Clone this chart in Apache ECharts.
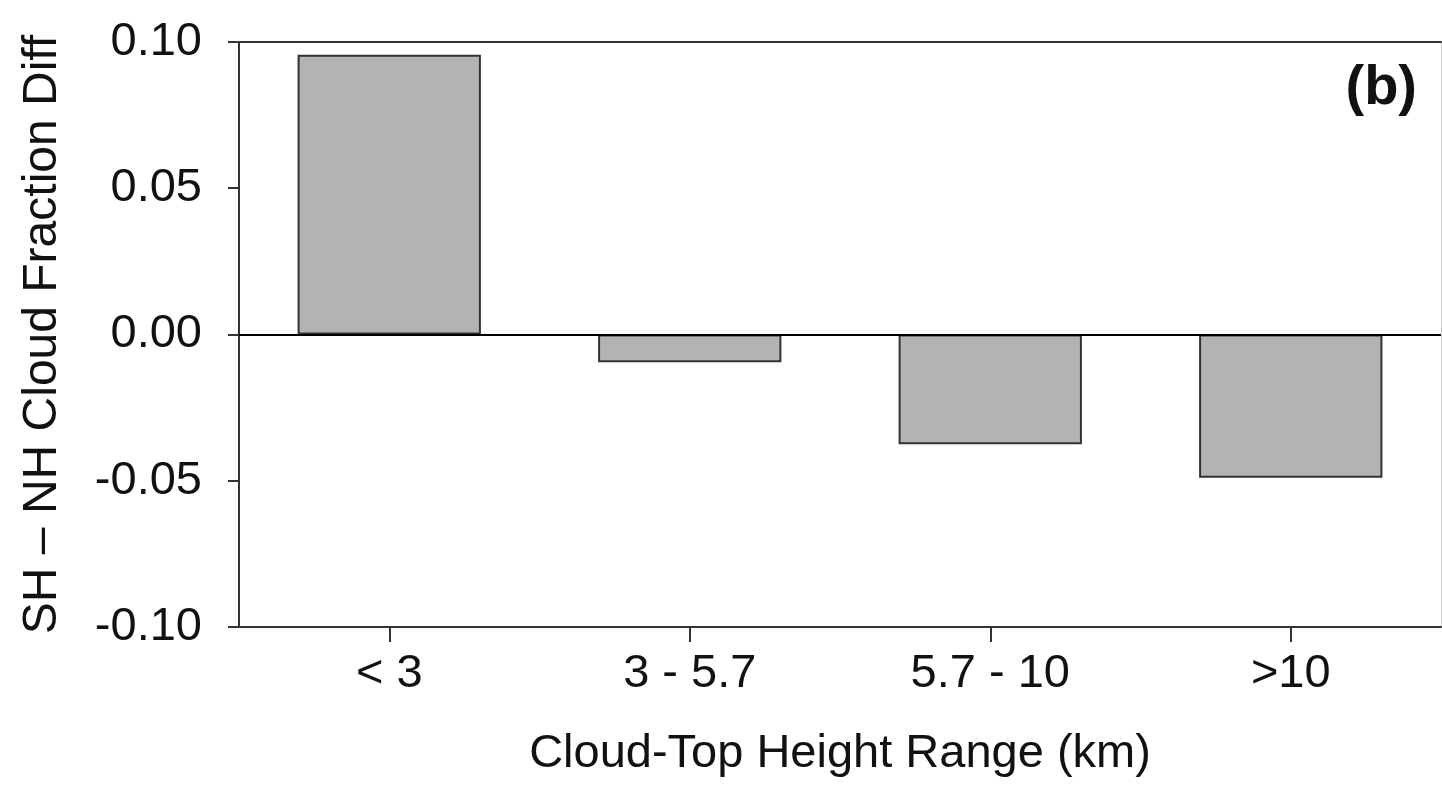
<!DOCTYPE html>
<html>
<head>
    <meta charset="UTF-8"/>
    <title>SH - NH Cloud Fraction Diff</title>
    <script type="text/javascript" src="https://cdn.jsdelivr.net/npm/echarts@6/dist/echarts.min.js"></script>
    <style>
        html, body { margin: 0; padding: 0; background: #fff; }
        #histogram { width: 1442px; height: 785px; }
    </style>
</head>
<body>
<div id="histogram"></div>
<script type="text/javascript">

    // cloud-top height ranges (km)
    var rangeList = ['< 3', '3 - 5.7', '5.7 - 10', '>10'];
    // SH minus NH cloud fraction difference
    var diffList = [0.0956, -0.0095, -0.0375, -0.049];
    var yTicks = [-0.10, -0.05, 0.00, 0.05, 0.10];

    var font = 'Liberation Sans, Arial, sans-serif';
    var chart = echarts.init(document.getElementById('histogram'));

    chart.setOption({
        animation: false,
        title: {
            text: '(b)',
            right: 20,
            top: 56,
            textStyle: { fontFamily: font, fontSize: 56, fontWeight: 'bold', color: '#111' }
        },
        grid: { left: 239, right: 1, top: 42, bottom: 158 },
        xAxis: [
            {
                type: 'category',
                data: rangeList,
                position: 'bottom',
                name: 'Cloud-Top Height Range (km)',
                nameLocation: 'middle',
                nameGap: 104,
                nameTextStyle: { fontFamily: font, fontSize: 47, color: '#111' },
                axisLine: { show: true, onZero: false, lineStyle: { color: '#333', width: 2 } },
                axisTick: { show: true, alignWithLabel: true, length: 15, lineStyle: { color: '#333', width: 2 } },
                axisLabel: { margin: 24, fontFamily: font, fontSize: 47, color: '#111' }
            },
            {
                type: 'category',
                data: rangeList,
                position: 'top',
                axisLine: { show: true, onZero: false, lineStyle: { color: '#333', width: 2 } },
                axisTick: { show: false },
                axisLabel: { show: false }
            }
        ],
        yAxis: [
            {
                type: 'value',
                min: -0.10,
                max: 0.10,
                interval: 0.05,
                name: 'SH \u2013 NH Cloud Fraction Diff',
                nameLocation: 'middle',
                nameGap: 172,
                nameTextStyle: { fontFamily: font, fontSize: 48, color: '#111' },
                splitLine: { show: false },
                axisLine: { show: true, lineStyle: { color: '#333', width: 2 } },
                axisTick: { show: true, length: 11, lineStyle: { color: '#333', width: 2 } },
                axisLabel: {
                    margin: 37,
                    fontFamily: font,
                    fontSize: 47,
                    color: '#111',
                    formatter: function (v) {
                        var t = yTicks.find(function (k) { return Math.abs(k - v) < 1e-9; });
                        return (t === undefined ? v : t).toFixed(2);
                    }
                }
            },
            {
                type: 'value',
                min: -0.10,
                max: 0.10,
                position: 'right',
                splitLine: { show: false },
                axisLine: { show: true, lineStyle: { color: '#ccc', width: 1 } },
                axisTick: { show: false },
                axisLabel: { show: false }
            }
        ],
        series: [
            {
                name: 'diff',
                type: 'bar',
                data: diffList,
                barWidth: '61%',
                itemStyle: { color: '#b3b3b3', borderColor: '#333', borderWidth: 2 },
                markLine: {
                    silent: true,
                    symbol: 'none',
                    label: { show: false },
                    lineStyle: { color: '#000', type: 'solid', width: 2 },
                    data: [{ yAxis: 0 }]
                }
            }
        ]
    });
</script>
</body>
</html>
